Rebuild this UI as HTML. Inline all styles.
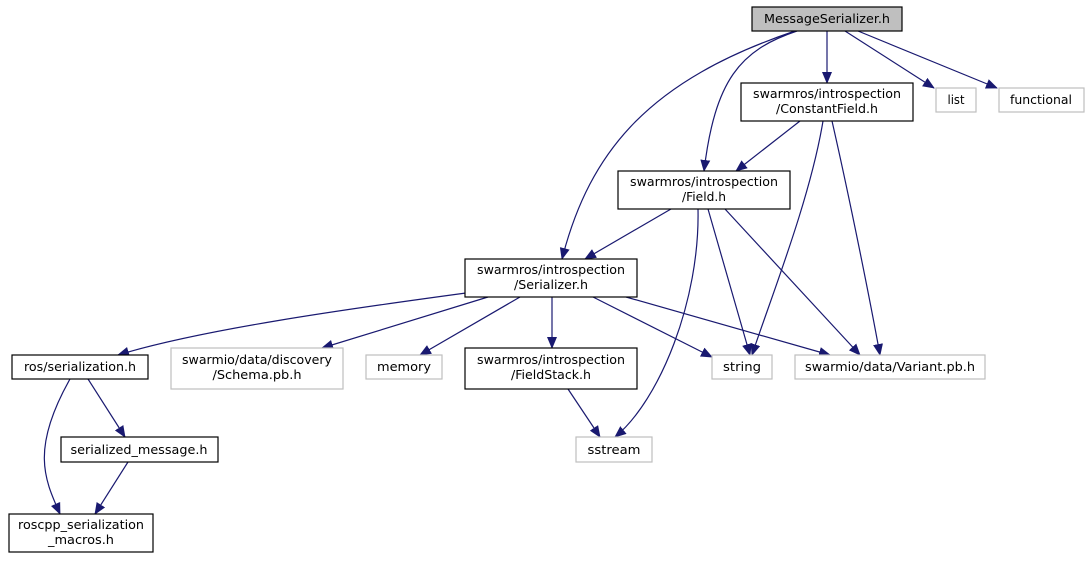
<!DOCTYPE html>
<html><head><meta charset="utf-8"><style>
html,body{margin:0;padding:0;background:#fff;}
svg text{font-family:"DejaVu Sans","Liberation Sans",sans-serif;font-size:12px;fill:#000;text-anchor:middle;}
</style></head><body>
<svg width="1091" height="559" viewBox="0 0 1091 559" xmlns="http://www.w3.org/2000/svg">
<defs><marker id="a" markerWidth="12" markerHeight="10" refX="11" refY="5" orient="auto" markerUnits="userSpaceOnUse"><path d="M0,0 L12,5 L0,10 Z" fill="#191970"/></marker></defs>
<g fill="none" stroke="#191970" stroke-width="1.2" marker-end="url(#a)">
<path d="M827,31 L827,83"/>
<path d="M845,31 L934,88"/>
<path d="M858,31 L997,88"/>
<path d="M797,31 C740,50 715,80 704,171"/>
<path d="M795,31 C650,80 590,150 562,259"/>
<path d="M800,121 L736,171"/>
<path d="M823,121 C810,200 770,300 752,355"/>
<path d="M832,121 C850,200 870,300 880,355"/>
<path d="M671,209 L585,259"/>
<path d="M708,209 L750,355"/>
<path d="M725,209 L860,355"/>
<path d="M698,209 C700,300 660,400 615,437"/>
<path d="M466,293 C340,310 200,330 118,355"/>
<path d="M488,297 L322,348"/>
<path d="M520,297 L420,355"/>
<path d="M552,297 L552,348"/>
<path d="M593,297 L712,357"/>
<path d="M626,297 L830,355"/>
<path d="M568,389 L600,437"/>
<path d="M88,379 L125,437"/>
<path d="M70,379 C30,450 45,480 60,514"/>
<path d="M128,462 L95,514"/>
</g>
<g stroke-width="1.2">
<rect x="752" y="7" width="150" height="24" fill="#bfbfbf" stroke="#000"/>
<rect x="741" y="83" width="172" height="38" fill="#fff" stroke="#000"/>
<rect x="936" y="88" width="40" height="24" fill="#fff" stroke="#bfbfbf"/>
<rect x="999" y="88" width="85" height="24" fill="#fff" stroke="#bfbfbf"/>
<rect x="618" y="171" width="172" height="38" fill="#fff" stroke="#000"/>
<rect x="465" y="259" width="172" height="38" fill="#fff" stroke="#000"/>
<rect x="12" y="355" width="136" height="24" fill="#fff" stroke="#000"/>
<rect x="171" y="348" width="172" height="41" fill="#fff" stroke="#bfbfbf"/>
<rect x="366" y="355" width="76" height="24" fill="#fff" stroke="#bfbfbf"/>
<rect x="465" y="348" width="172" height="41" fill="#fff" stroke="#000"/>
<rect x="712" y="355" width="60" height="24" fill="#fff" stroke="#bfbfbf"/>
<rect x="795" y="355" width="190" height="24" fill="#fff" stroke="#bfbfbf"/>
<rect x="61" y="437" width="157" height="25" fill="#fff" stroke="#000"/>
<rect x="576" y="437" width="76" height="25" fill="#fff" stroke="#bfbfbf"/>
<rect x="9" y="514" width="144" height="38" fill="#fff" stroke="#000"/>
</g>
<g>
<text x="827" y="23" textLength="126" lengthAdjust="spacingAndGlyphs">MessageSerializer.h</text>
<text x="827" y="98" textLength="148" lengthAdjust="spacingAndGlyphs">swarmros/introspection</text>
<text x="827" y="113" textLength="102" lengthAdjust="spacingAndGlyphs">/ConstantField.h</text>
<text x="956" y="104" textLength="17" lengthAdjust="spacingAndGlyphs">list</text>
<text x="1041" y="104" textLength="62" lengthAdjust="spacingAndGlyphs">functional</text>
<text x="704" y="186" textLength="148" lengthAdjust="spacingAndGlyphs">swarmros/introspection</text>
<text x="704" y="201" textLength="44" lengthAdjust="spacingAndGlyphs">/Field.h</text>
<text x="551" y="274" textLength="148" lengthAdjust="spacingAndGlyphs">swarmros/introspection</text>
<text x="551" y="289" textLength="74" lengthAdjust="spacingAndGlyphs">/Serializer.h</text>
<text x="80" y="371" textLength="112" lengthAdjust="spacingAndGlyphs">ros/serialization.h</text>
<text x="257" y="364" textLength="150" lengthAdjust="spacingAndGlyphs">swarmio/data/discovery</text>
<text x="257" y="379" textLength="89" lengthAdjust="spacingAndGlyphs">/Schema.pb.h</text>
<text x="404" y="371" textLength="54" lengthAdjust="spacingAndGlyphs">memory</text>
<text x="551" y="364" textLength="148" lengthAdjust="spacingAndGlyphs">swarmros/introspection</text>
<text x="551" y="379" textLength="80" lengthAdjust="spacingAndGlyphs">/FieldStack.h</text>
<text x="742" y="371" textLength="38" lengthAdjust="spacingAndGlyphs">string</text>
<text x="890" y="371" textLength="170" lengthAdjust="spacingAndGlyphs">swarmio/data/Variant.pb.h</text>
<text x="139" y="454" textLength="137" lengthAdjust="spacingAndGlyphs">serialized_message.h</text>
<text x="614" y="454" textLength="53" lengthAdjust="spacingAndGlyphs">sstream</text>
<text x="81" y="529" textLength="126" lengthAdjust="spacingAndGlyphs">roscpp_serialization</text>
<text x="81" y="544" textLength="66" lengthAdjust="spacingAndGlyphs">_macros.h</text>
</g>
</svg>
</body></html>
